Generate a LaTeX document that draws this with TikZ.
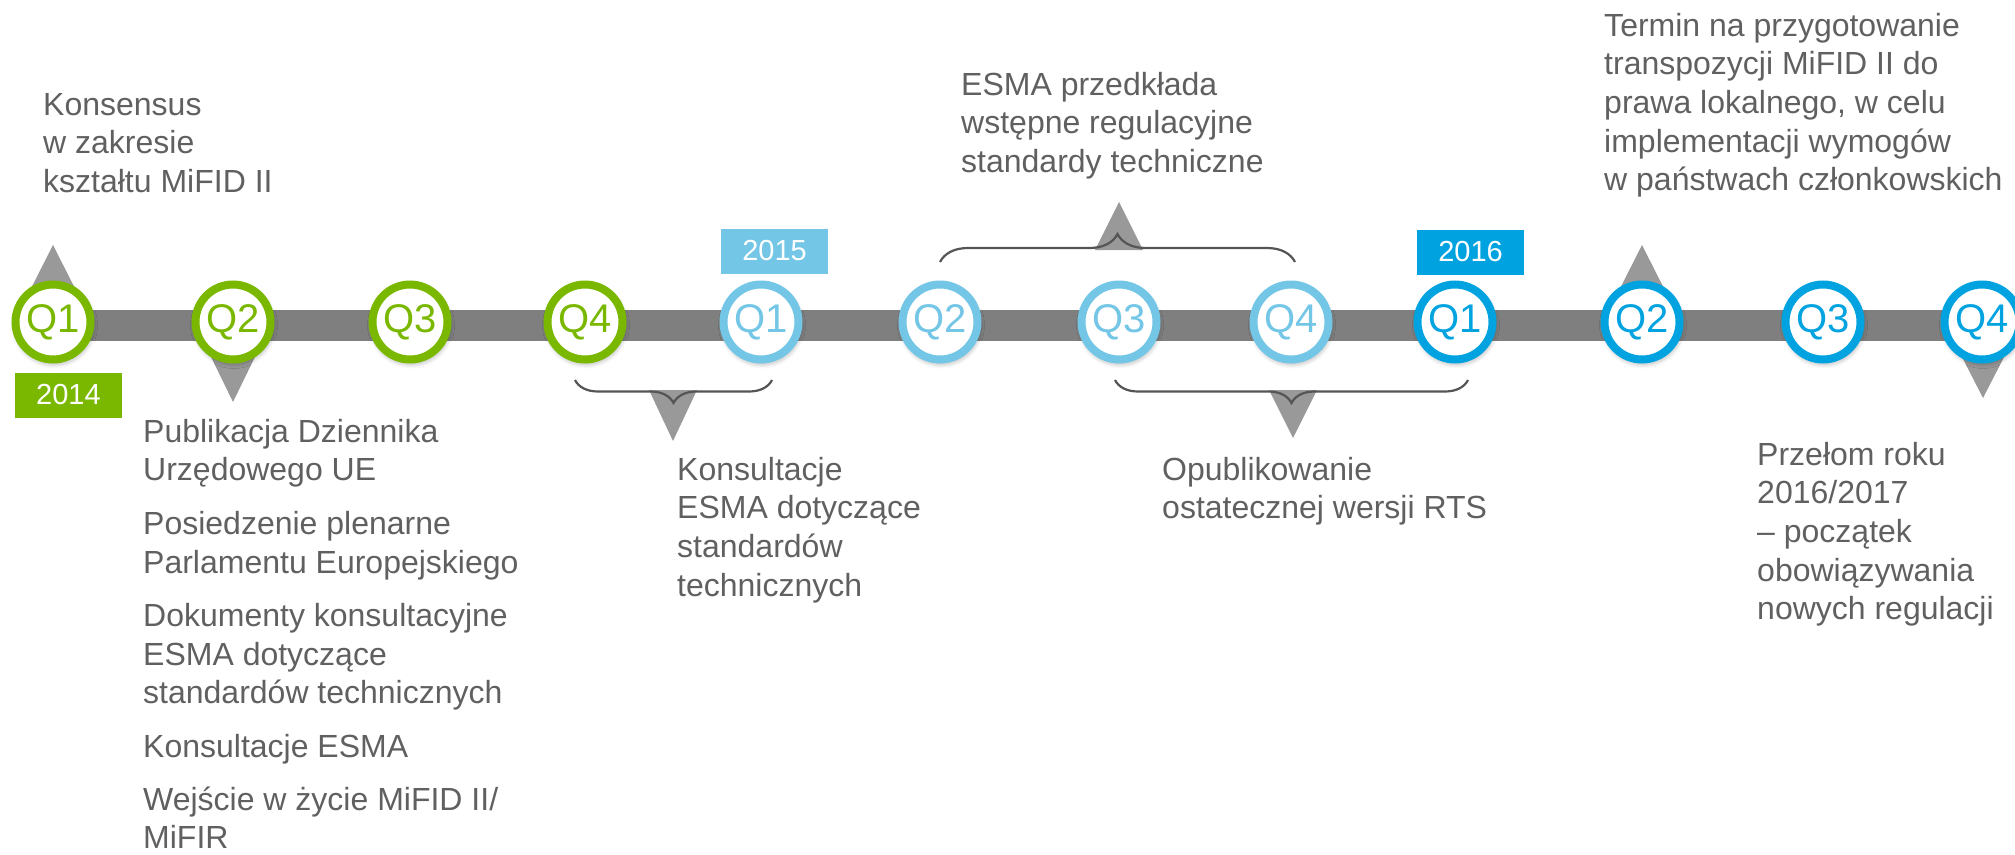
\documentclass[tikz,border=0pt]{standalone}
\usepackage{fontspec}
\setmainfont{Liberation Sans}
\usetikzlibrary{decorations.pathreplacing,shadows.blur,calc}
\definecolor{cgreen}{RGB}{122,184,0}
\definecolor{clblue}{RGB}{115,198,230}
\definecolor{cblue}{RGB}{0,163,224}
\definecolor{cbar}{RGB}{127,127,127}
\definecolor{ctri}{RGB}{153,153,153}
\definecolor{ctext}{RGB}{96,96,96}
\definecolor{cbrace}{RGB}{85,85,85}
\begin{document}
\begin{tikzpicture}[x=1pt,y=-1pt,
  qnode/.style={circle, minimum size=75pt, inner sep=0pt, line width=8pt, fill=white, draw=#1, text=#1,
    font=\fontsize{40}{40}\selectfont,
    blur shadow={shadow xshift=1pt,shadow yshift=-3pt,shadow blur radius=6pt,shadow opacity=45}},
  yearbox/.style={fill=#1, text=white, minimum width=107pt, minimum height=45pt, inner sep=0pt,
    font=\fontsize{29}{29}\selectfont},
  lbl/.style={text=ctext, align=left, inner sep=0pt, anchor=north west,
    font=\fontsize{32}{38.6}\selectfont},
  pointer/.style={fill=ctri},
  bracestyle/.style={draw=cbrace, line width=2.2pt, decorate, decoration={brace, amplitude=#1}}
]
\useasboundingbox (0,0) rectangle (2015,854);

% bar
\fill[cbar] (53,310) rectangle (2015,341);

% pointer triangles
\fill[pointer] (53,245) -- (14,322) -- (92,322) -- cycle;
\fill[pointer] (233,402) -- (194,322) -- (272,322) -- cycle;
\fill[pointer] (1642,245) -- (1603,322) -- (1681,322) -- cycle;
\fill[pointer] (1983,398) -- (1944,322) -- (2022,322) -- cycle;
\fill[pointer] (1119,202) -- (1095,250) -- (1143,250) -- cycle;
\fill[pointer] (673,441) -- (649,390) -- (697,390) -- cycle;
\fill[pointer] (1293,438) -- (1269,390) -- (1317,390) -- cycle;

% quarter circles
\node[qnode=cgreen] (a1) at (53,322) {Q1};
\node[qnode=cgreen] (a2) at (233,322) {Q2};
\node[qnode=cgreen] (a3) at (410,322) {Q3};
\node[qnode=cgreen] (a4) at (585,322) {Q4};
\node[qnode=clblue] (b1) at (761,322) {Q1};
\node[qnode=clblue] (b2) at (940,322) {Q2};
\node[qnode=clblue] (b3) at (1119,322) {Q3};
\node[qnode=clblue] (b4) at (1291,322) {Q4};
\node[qnode=cblue] (c1) at (1455,322) {Q1};
\node[qnode=cblue] (c2) at (1642,322) {Q2};
\node[qnode=cblue] (c3) at (1823,322) {Q3};
\node[qnode=cblue] (c4) at (1982,322) {Q4};

% year boxes
\node[yearbox=cgreen] (y14) at (68.5,395) {2014};
\node[yearbox=clblue] (y15) at (774.5,251) {2015};
\node[yearbox=cblue] (y16) at (1470.5,252) {2016};

% braces
\coordinate (br1a) at (772,380);
\coordinate (br1b) at (575,380);
\coordinate (br2a) at (940,262);
\coordinate (br2b) at (1295,262);
\coordinate (br3a) at (1468,380);
\coordinate (br3b) at (1115,380);
\draw[bracestyle=23pt] (br1a) -- (br1b);
\draw[bracestyle=28pt] (br2a) -- (br2b);
\draw[bracestyle=23pt] (br3a) -- (br3b);

% texts
\node[lbl] (t1) at (43,88) {\strut Konsensus\\w zakresie\\kształtu MiFID II};
\node[lbl] (t2) at (143,415) {\strut Publikacja Dziennika\\Urzędowego UE\\[15pt]Posiedzenie plenarne\\Parlamentu Europejskiego\\[15pt]Dokumenty konsultacyjne\\ESMA dotyczące\\standardów technicznych\\[15pt]Konsultacje ESMA\\[14pt]Wejście w życie MiFID II/\\MiFIR};
\node[lbl] (t3) at (677,453) {\strut Konsultacje\\ESMA dotyczące\\standardów\\technicznych};
\node[lbl] (t4) at (961,68) {\strut ESMA przedkłada\\wstępne regulacyjne\\standardy techniczne};
\node[lbl] (t5) at (1162,453) {\strut Opublikowanie\\ostatecznej wersji RTS};
\node[lbl] (t6) at (1604,9) {\strut Termin na przygotowanie\\transpozycji MiFID II do\\prawa lokalnego, w celu\\implementacji wymogów\\w państwach członkowskich};
\node[lbl] (t7) at (1757,438) {\strut Przełom roku\\2016/2017\\– początek\\obowiązywania\\nowych regulacji};
\end{tikzpicture}
\end{document}
